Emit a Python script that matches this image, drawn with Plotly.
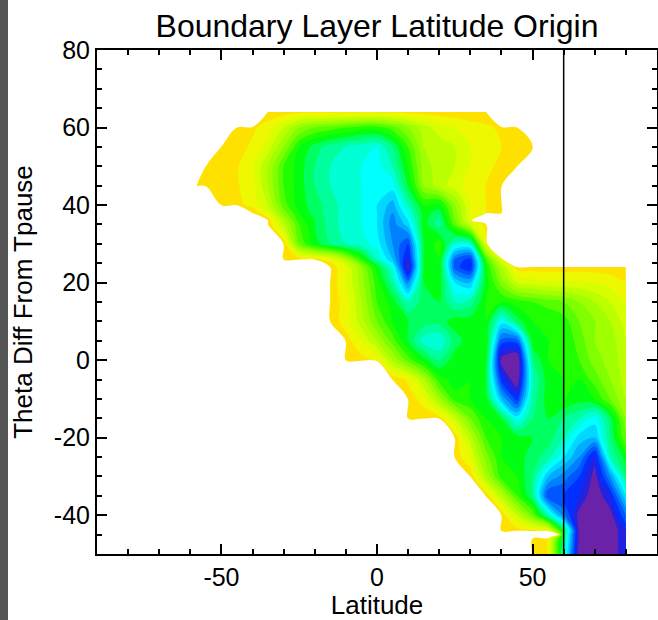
import plotly.graph_objects as go

N = None

# Latitude columns (deg) and theta rows (K from tropopause)
LAT = [-58, -55, -50, -45, -40, -35, -30, -25, -20, -15, -10, -5, 0, 5, 10, 15,
       20, 25, 30, 35, 40, 45, 50, 55, 60, 65, 70, 75, 80]
THETA = [-50, -46, -45, -44, -40, -35, -30, -25, -20, -15, -10, -5, 0, 5, 10,
         15, 20, 24, 26, 30, 35, 36, 38, 40, 45, 50, 55, 60, 64]

# Relative frequency index (contour level units); None = no data
ROWS = [
    # -50
    [N]*22 + [.3, 1, 11, 20, 20, 20, 18],
    # -46
    [N]*22 + [.3, .8, 10, 19.5, 20, 20, 18],
    # -45
    [N]*24 + [10, 19.5, 20, 20, 18],
    # -44
    [N]*20 + [.3, .5, .8, 1.2, 9, 19.5, 20, 20, 18],
    # -40
    [N]*20 + [.3, 3, 6, 11, 15.5, 19.5, 20, 19.5, 16],
    # -35
    [N]*19 + [.3, 3.5, 7, 10, 17, 17, 18, 20, 18, 13],
    # -30
    [N]*18 + [.3, 4, 7.5, 8, 10, 14, 15.5, 17, 19.5, 15, 10],
    # -25
    [N]*17 + [.3, 2, 5.5, 8, 8.5, 9.5, 10.5, 13, 15, 18.5, 11, 8.5],
    # -20
    [N]*17 + [.4, 3.5, 7, 8, 8.5, 9, 9.5, 11, 13.5, 14, 10, 6],
    # -15
    [N]*14 + [.3, .3, .5, 3, 6, 8, 9, 12.5, 10, 9, 10, 11, 12.5, 9.5, 5],
    # -10
    [N]*14 + [.4, 1.5, 4.5, 7.5, 8, 8.5, 14, 17.5, 10.5, 8.5, 8, 8.5, 8, 6, 4],
    # -5
    [N]*13 + [.3, 1.2, 4, 7.5, 8.5, 8, 9, 17.5, 20, 11, 8.5, 8, 8, 6.5, 5, 3.5],
    # 0
    [N]*10 + [.3, .6, 1.2, 4, 6.5, 8.5, 10, 8.5, 8, 8.5, 19.5, 20.5, 10, 8, 8,
              7, 5.5, 4.5, 3.5],
    # 5
    [N]*10 + [.5, 2, 4, 6.5, 9, 11.5, 12, 9.5, 8.5, 8, 16.5, 16.5, 8.5, 8, 8,
              6.5, 5, 4.5, 3],
    # 10
    [N]*9 + [.3, 1.5, 3.5, 6, 8, 9, 9.5, 9.5, 8.5, 8.5, 8, 12.5, 9.5, 8, 8, 7.5,
             6, 5, 4, 2.5],
    # 15
    [N]*9 + [.3, 1.5, 4, 7, 8.5, 11, 9.5, 9, 11, 10.5, 8, 8, 7.5, 7, 6.5, 6, 5,
             4, 3, 2],
    # 20
    [N]*9 + [.3, 2, 4.5, 7.5, 10.5, 15.5, 9, 8.5, 13, 14, 8.5, 5.5, 3, 2.5, 2.2,
             2.2, 2.2, 2, 1.6, 1],
    # 24
    [N]*9 + [.3, 2, 5, 8.5, 12, 19.3, 9, 8, 16.5, 18, 8, 4, .5, .5, .5, .5, .5,
             .5, .4, .3],
    # 26
    [N]*6 + [.3, .5, .8, 1.5, 4, 7.5, 11, 14, 18.5, 9, 8, 16, 17.5, 7, 2] + [N]*8,
    # 30
    [N]*6 + [.4, 6, 8.5, 10, 11, 11.5, 12.5, 15, 17, 9, 7.5, 11.5, 11.5, 2] + [N]*9,
    # 35
    [N]*5 + [.3, 3.5, 7, 9, 10.5, 11.5, 12, 13, 15.5, 13.5, 8.5, 10.5, 6.5, 3,
             .5] + [N]*9,
    # 36
    [N]*5 + [.3, 4, 7.5, 9, 10.5, 11.5, 12, 13, 15.5, 13, 8.5, 10.5, 6, 2] + [N]*10,
    # 38
    [N]*4 + [.3, 2, 5.5, 8, 9.5, 10.5, 11.5, 12, 13, 15, 12, 8.5, 9.5, 5.5, 2,
             1, .3] + [N]*8,
    # 40
    [N]*2 + [.3, .7, 1.3, 3, 6.5, 8.5, 9.5, 10.5, 11.5, 12, 13, 14.5, 11, 8, 8.5,
             5, 2, 1, .4] + [N]*8,
    # 45
    [.3, .6, .8, .9, 1.6, 4, 7, 8.5, 10, 11, 11.5, 12, 12.5, 12.5, 9, 5, 3.5,
     2.5, 1.5, 1, .4] + [N]*8,
    # 50
    [N] + [.3, .6, .9, 1.8, 4, 7, 8.5, 10, 11, 11.5, 12, 12.5, 11, 8, 4.5, 3.5,
           3, 2, 1.2, .8, .3] + [N]*7,
    # 55
    [N]*2 + [.3, .6, 1.2, 2.5, 5, 8, 9.5, 10.5, 11, 11.5, 12, 10, 7, 4, 3.5, 3,
             2, 1.5, 1, .7, .3] + [N]*6,
    # 60
    [N]*3 + [.3, .8, 1.5, 3, 5, 6, 6.5, 7, 7.5, 7.5, 6.5, 5, 3.5, 2.5, 2, 1.5,
             1.2, .8, .3] + [N]*7,
    # 64
    [N]*5 + [.3, .5, .7, .8, .8, .8, .8, .8, .8, .7, .6, .5, .4, .3, .3] + [N]*9,
]

NO_DATA = -20.0
Z = [[NO_DATA if v is None else v for v in row] for row in ROWS]

MARK_LAT = 60  # reference latitude line

X_TICKS = [-50, 0, 50]
X_LABELS = ['-50', '0', '50']
Y_TICKS = [-40, -20, 0, 20, 40, 60, 80]
Y_LABELS = ['-40', '-20', '0', '20', '40', '60', '80']

COLORS = ['#FFFFFF', '#FFE100', '#EEF800', '#D8FF00', '#BCFF00', '#A0FF00',
          '#80FF00', '#55FF00', '#20FF00', '#00FF10', '#00FF60', '#00FF9C',
          '#00FFD4', '#00FFFF', '#00D8FF', '#00ACFF', '#0080FF', '#0055FF',
          '#0030FF', '#2222E0', '#6A22A8']
cscale = [[i / (len(COLORS) - 1), c] for i, c in enumerate(COLORS)]

FONT = 'Liberation Sans, Arial, Helvetica, sans-serif'

fig = go.Figure()
fig.add_trace(go.Contour(
    x=LAT, y=THETA, z=Z,
    autocontour=False,
    contours=dict(start=0, end=19, size=1, coloring='fill', showlines=False),
    line=dict(width=0),
    colorscale=cscale,
    showscale=False,
    hoverinfo='skip',
))
fig.add_trace(go.Scatter(
    x=[MARK_LAT, MARK_LAT], y=[-50, 80], mode='lines',
    line=dict(color='black', width=1.5), hoverinfo='skip', showlegend=False,
))

L, R, T, B = 97, 1, 50, 66
W, H = 658, 620
pw, ph = W - L - R, H - T - B

axis_common = dict(
    showline=True, linecolor='black', linewidth=2, mirror='ticks',
    ticks='inside', ticklen=10, tickwidth=1.5, tickcolor='black',
    showgrid=False, zeroline=False, automargin=False,
    tickfont=dict(family=FONT, size=25, color='black'),
)

fig.update_layout(
    width=W, height=H,
    margin=dict(l=L, r=R, t=T, b=B, pad=0, autoexpand=False),
    paper_bgcolor='white', plot_bgcolor='white',
    showlegend=False,
    title=dict(text='Boundary Layer Latitude Origin', x=0.5, xref='paper',
               xanchor='center', y=1 - 26 / H, yref='container',
               yanchor='middle', automargin=False,
               font=dict(family=FONT, size=32, color='black')),
    xaxis=dict(range=[-90, 90], tickvals=X_TICKS, ticktext=X_LABELS,
               minor=dict(dtick=10, tick0=0, ticks='inside', ticklen=5,
                          tickwidth=1.5, tickcolor='black'),
               ticklabelstandoff=0,
               title=dict(text='Latitude', standoff=11,
                          font=dict(family=FONT, size=26, color='black')),
               **axis_common),
    yaxis=dict(range=[-50, 80], tickvals=Y_TICKS, ticktext=Y_LABELS,
               minor=dict(dtick=5, tick0=0, ticks='inside', ticklen=5,
                          tickwidth=1.5, tickcolor='black'),
               ticklabelstandoff=0,
               title=dict(text='Theta Diff From Tpause', standoff=14,
                          font=dict(family=FONT, size=26, color='black')),
               **axis_common),
    shapes=[dict(type='rect', xref='paper', yref='paper',
                 x0=-L / pw, x1=(8 - L) / pw, y0=-B / ph, y1=1 + T / ph,
                 fillcolor='#555555', line=dict(width=0), layer='below')],
)

fig.write_html('out.html',
               config={'displayModeBar': False},
               post_script="document.body.style.margin='0px';"
                           "document.body.style.overflow='hidden';")
